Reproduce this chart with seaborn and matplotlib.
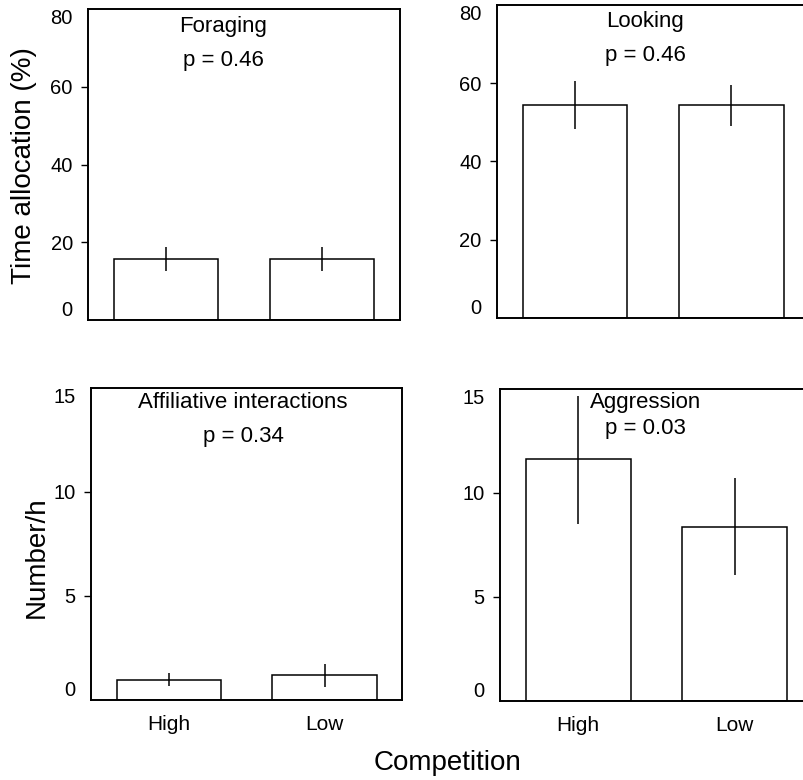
import pandas as pd
import matplotlib
matplotlib.use("Agg")
import matplotlib.pyplot as plt
import seaborn as sns

# data
competition = ["High", "Low"]

foraging_mean = [15.6, 15.6]
foraging_lo = [12.6, 12.6]
foraging_hi = [18.7, 18.7]

looking_mean = [54.4, 54.4]
looking_lo = [48.2, 49.2]
looking_hi = [60.5, 59.5]

affiliative_mean = [0.95, 1.19]
affiliative_lo = [0.67, 0.62]
affiliative_hi = [1.29, 1.71]

aggression_mean = [11.63, 8.37]
aggression_lo = [8.5, 6.06]
aggression_hi = [14.66, 10.72]

titles = ["Foraging", "Looking", "Affiliative interactions", "Aggression"]
pvalues = ["p = 0.46", "p = 0.46", "p = 0.34", "p = 0.03"]

sns.set_theme(style="white")
plt.rcParams["font.family"] = ["Liberation Sans", "DejaVu Sans"]

fig = plt.figure(figsize=(8.04, 7.80), dpi=100)

# axes rectangles [left, bottom, width, height] in figure fractions
rects = [
    [0.1095, 0.5897, 0.388, 0.3987],
    [0.618, 0.5923, 0.389, 0.4013],
    [0.1132, 0.1026, 0.3874, 0.400],
    [0.6219, 0.1013, 0.389, 0.400],
]
panels = [
    (foraging_mean, foraging_lo, foraging_hi, 80, [0, 20, 40, 60, 80]),
    (looking_mean, looking_lo, looking_hi, 80, [0, 20, 40, 60, 80]),
    (affiliative_mean, affiliative_lo, affiliative_hi, 15, [0, 5, 10, 15]),
    (aggression_mean, aggression_lo, aggression_hi, 15, [0, 5, 10, 15]),
]
text_pos = [
    (0.433, 0.945, 0.836),
    (0.474, 0.946, 0.840),
    (0.488, 0.952, 0.843),
    (0.466, 0.958, 0.872),
]

for i, (rect, (mean, lo, hi, ymax, yticks)) in enumerate(zip(rects, panels)):
    ax = fig.add_axes(rect)
    df = pd.DataFrame({"competition": competition, "value": mean})
    sns.barplot(data=df, x="competition", y="value", order=competition,
                color="white", saturation=1, edgecolor="black", linewidth=1.1,
                width=0.67, errorbar=None, ax=ax)
    xs = range(len(competition))
    yerr = [[m - l for m, l in zip(mean, lo)], [h - m for m, h in zip(mean, hi)]]
    ax.errorbar(x=list(xs), y=mean, yerr=yerr, fmt="none", ecolor="black",
                elinewidth=1.1, capsize=0)
    ax.set_xlim(-0.5, 1.5)
    ax.set_ylim(0, ymax)
    ax.set_yticks(yticks)
    ax.set_xlabel("")
    ax.set_ylabel("")
    for s in ax.spines.values():
        s.set_color("black")
        s.set_linewidth(1.4)
    ax.tick_params(axis="y", direction="out", length=5, width=1, color="black",
                   labelsize=14.5, labelcolor="black", left=True, pad=6)
    ax.tick_params(axis="x", length=0, labelsize=15, labelcolor="black", pad=11)
    if i < 2:
        ax.set_xticklabels([])
    # end labels sit inside the frame and their tick marks are not drawn
    ylabels = ax.get_yticklabels()
    ylabels[0].set_verticalalignment("bottom")
    ylabels[-1].set_verticalalignment("top")
    ymajor = ax.yaxis.get_major_ticks()
    ymajor[0].tick1line.set_visible(False)
    ymajor[-1].tick1line.set_visible(False)
    tx, ty1, ty2 = text_pos[i]
    ax.text(tx, ty1, titles[i], transform=ax.transAxes, ha="center", va="center",
            fontsize=16, color="black")
    ax.text(tx, ty2, pvalues[i], transform=ax.transAxes, ha="center", va="center",
            fontsize=16, color="black")

fig.text(24 / 804, 1 - 166 / 780, "Time allocation (%)", rotation=90,
         ha="center", va="center", fontsize=20, color="black")
fig.text(37 / 804, 1 - 557 / 780, "Number/h", rotation=90,
         ha="center", va="center", fontsize=20, color="black")
fig.text(448 / 804, 1 - 763 / 780, "Competition", ha="center", va="center",
         fontsize=20, color="black")

fig.savefig("out.png", dpi=100, facecolor="white")
